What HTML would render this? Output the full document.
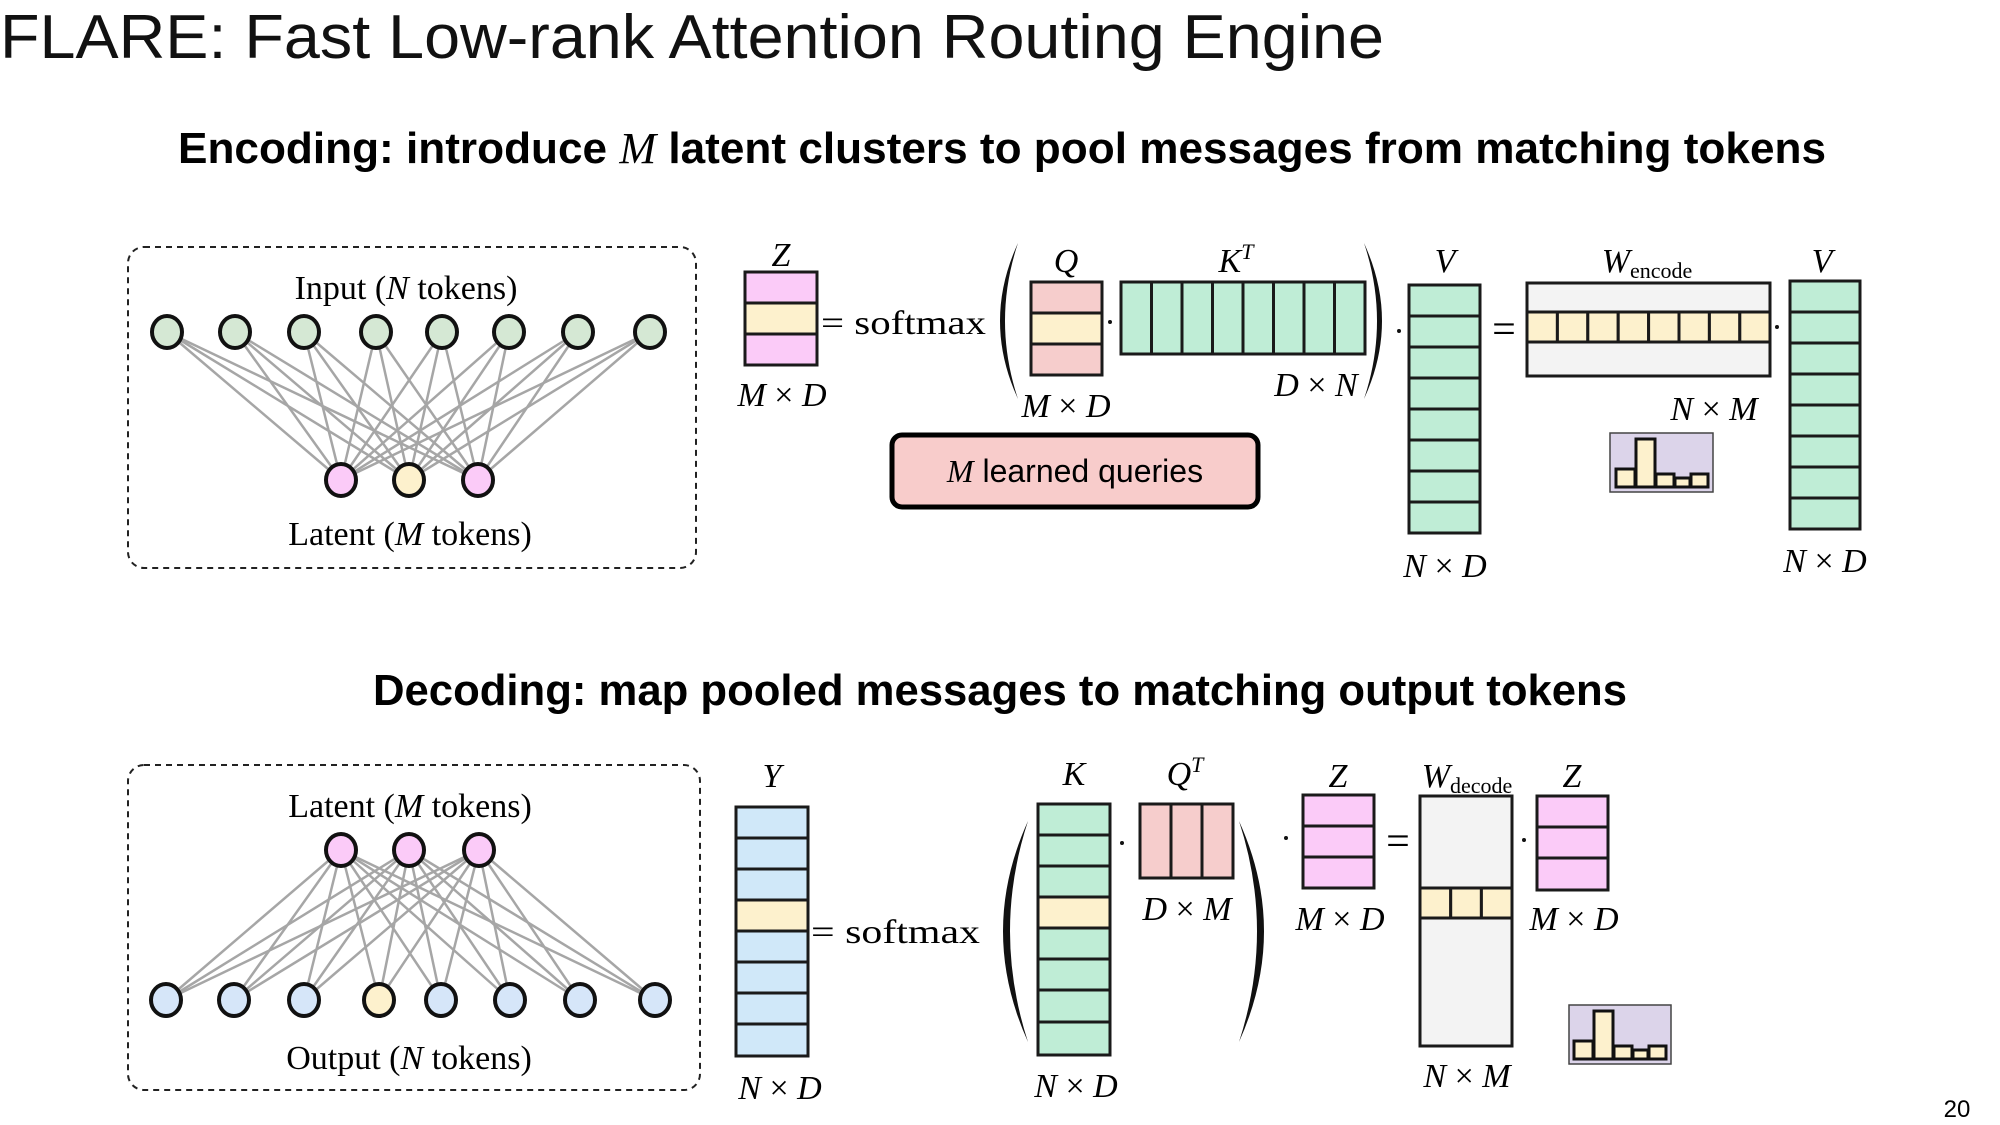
<!DOCTYPE html>
<html><head><meta charset="utf-8"><style>
html,body{margin:0;padding:0;background:#fff;}
svg{display:block;}
.t{font-family:"Liberation Sans",sans-serif;}
.m{font-family:"Liberation Serif",serif;font-size:34px;}
.i{font-style:italic;}
.eq{font-family:"Liberation Serif",serif;font-size:42px;}
.cell{stroke:#1a1a1a;stroke-width:3;}
.e{stroke:#a6a6a6;stroke-width:2.5;}
.n{stroke:#111;stroke-width:4;}
</style></head><body>
<svg width="2000" height="1125" viewBox="0 0 2000 1125" xmlns="http://www.w3.org/2000/svg">
<rect width="2000" height="1125" fill="#fff"/>
<text class="t" x="0" y="58" font-size="62" fill="#111" textLength="1384" lengthAdjust="spacingAndGlyphs">FLARE: Fast Low-rank Attention Routing Engine</text>
<text class="t" x="178" y="163" font-size="44" font-weight="bold" textLength="1648" lengthAdjust="spacingAndGlyphs">Encoding: introduce <tspan font-family="Liberation Serif" font-style="italic" font-weight="normal">M</tspan> latent clusters to pool messages from matching tokens</text>
<text class="t" x="373" y="705" font-size="44" font-weight="bold" textLength="1254" lengthAdjust="spacingAndGlyphs">Decoding: map pooled messages to matching output tokens</text>

<rect x="128" y="247" width="568" height="321" rx="16" fill="none" stroke="#222" stroke-width="2" stroke-dasharray="6,5"/>
<g class="e">
<line x1="167" y1="332" x2="341" y2="480"/><line x1="167" y1="332" x2="409" y2="480"/><line x1="167" y1="332" x2="478" y2="480"/>
<line x1="235" y1="332" x2="341" y2="480"/><line x1="235" y1="332" x2="409" y2="480"/><line x1="235" y1="332" x2="478" y2="480"/>
<line x1="304" y1="332" x2="341" y2="480"/><line x1="304" y1="332" x2="409" y2="480"/><line x1="304" y1="332" x2="478" y2="480"/>
<line x1="376" y1="332" x2="341" y2="480"/><line x1="376" y1="332" x2="409" y2="480"/><line x1="376" y1="332" x2="478" y2="480"/>
<line x1="442" y1="332" x2="341" y2="480"/><line x1="442" y1="332" x2="409" y2="480"/><line x1="442" y1="332" x2="478" y2="480"/>
<line x1="509" y1="332" x2="341" y2="480"/><line x1="509" y1="332" x2="409" y2="480"/><line x1="509" y1="332" x2="478" y2="480"/>
<line x1="578" y1="332" x2="341" y2="480"/><line x1="578" y1="332" x2="409" y2="480"/><line x1="578" y1="332" x2="478" y2="480"/>
<line x1="650" y1="332" x2="341" y2="480"/><line x1="650" y1="332" x2="409" y2="480"/><line x1="650" y1="332" x2="478" y2="480"/>
</g>
<g class="n" fill="#d5e8d4">
<ellipse cx="167" cy="332" rx="15" ry="16"/><ellipse cx="235" cy="332" rx="15" ry="16"/><ellipse cx="304" cy="332" rx="15" ry="16"/><ellipse cx="376" cy="332" rx="15" ry="16"/>
<ellipse cx="442" cy="332" rx="15" ry="16"/><ellipse cx="509" cy="332" rx="15" ry="16"/><ellipse cx="578" cy="332" rx="15" ry="16"/><ellipse cx="650" cy="332" rx="15" ry="16"/>
</g>
<ellipse class="n" cx="341" cy="480" rx="15" ry="16" fill="#fbcbf8"/>
<ellipse class="n" cx="409" cy="480" rx="15" ry="16" fill="#fdf1cd"/>
<ellipse class="n" cx="478" cy="480" rx="15" ry="16" fill="#fbcbf8"/>
<text class="m" x="406" y="299" text-anchor="middle">Input (<tspan class="i">N</tspan> tokens)</text>
<text class="m" x="410" y="545" text-anchor="middle">Latent (<tspan class="i">M</tspan> tokens)</text>

<text class="m i" x="781" y="266" text-anchor="middle">Z</text>
<rect class="cell" x="745" y="272" width="72" height="31" fill="#fbcbf8"/>
<rect class="cell" x="745" y="303" width="72" height="31" fill="#fdf1cd"/>
<rect class="cell" x="745" y="334" width="72" height="31" fill="#fbcbf8"/>
<text class="m" x="782" y="406" text-anchor="middle"><tspan class="i">M</tspan> × <tspan class="i">D</tspan></text>
<text class="m" x="821" y="334" textLength="165" lengthAdjust="spacingAndGlyphs">= softmax</text>
<path d="M1018,243 Q982,321 1018,399 Q992,321 1018,243 Z" fill="#111"/>
<text class="m i" x="1066" y="272" text-anchor="middle">Q</text>
<rect class="cell" x="1031" y="282" width="71" height="31" fill="#f6cdcc"/>
<rect class="cell" x="1031" y="313" width="71" height="31" fill="#fdf1cd"/>
<rect class="cell" x="1031" y="344" width="71" height="31" fill="#f6cdcc"/>
<text class="m" x="1066" y="417" text-anchor="middle"><tspan class="i">M</tspan> × <tspan class="i">D</tspan></text>
<circle cx="1110" cy="322" r="2" fill="#111"/>
<text class="m i" x="1236" y="272" text-anchor="middle">K<tspan font-size="22" dy="-13">T</tspan></text>
<g class="cell" fill="#bfedd6">
<rect x="1121" y="282" width="30.5" height="72"/><rect x="1151.5" y="282" width="30.5" height="72"/><rect x="1182" y="282" width="30.5" height="72"/><rect x="1212.5" y="282" width="30.5" height="72"/>
<rect x="1243" y="282" width="30.5" height="72"/><rect x="1273.5" y="282" width="30.5" height="72"/><rect x="1304" y="282" width="30.5" height="72"/><rect x="1334.5" y="282" width="30.5" height="72"/>
</g>
<text class="m" x="1316" y="396" text-anchor="middle"><tspan class="i">D</tspan> × <tspan class="i">N</tspan></text>
<path d="M1364,243 Q1400,321 1364,399 Q1390,321 1364,243 Z" fill="#111"/>
<circle cx="1399" cy="331" r="2" fill="#111"/>
<text class="m i" x="1445" y="272" text-anchor="middle">V</text>
<g class="cell" fill="#bfedd6">
<rect x="1409" y="285" width="71" height="31"/><rect x="1409" y="316" width="71" height="31"/><rect x="1409" y="347" width="71" height="31"/><rect x="1409" y="378" width="71" height="31"/>
<rect x="1409" y="409" width="71" height="31"/><rect x="1409" y="440" width="71" height="31"/><rect x="1409" y="471" width="71" height="31"/><rect x="1409" y="502" width="71" height="31"/>
</g>
<text class="m" x="1445" y="577" text-anchor="middle"><tspan class="i">N</tspan> × <tspan class="i">D</tspan></text>
<text class="eq" x="1504" y="343" text-anchor="middle">=</text>
<text class="m i" x="1647" y="272" text-anchor="middle">W<tspan font-style="normal" font-size="22" dy="6">encode</tspan></text>
<rect class="cell" x="1527" y="283" width="243" height="93" fill="#f3f3f3"/>
<g class="cell" fill="#fdf1cd">
<rect x="1527" y="312" width="30.4" height="30"/><rect x="1557.4" y="312" width="30.4" height="30"/><rect x="1587.8" y="312" width="30.4" height="30"/><rect x="1618.2" y="312" width="30.4" height="30"/>
<rect x="1648.6" y="312" width="30.4" height="30"/><rect x="1679" y="312" width="30.4" height="30"/><rect x="1709.4" y="312" width="30.4" height="30"/><rect x="1739.8" y="312" width="30.2" height="30"/>
</g>
<text class="m" x="1714" y="420" text-anchor="middle"><tspan class="i">N</tspan> × <tspan class="i">M</tspan></text>
<circle cx="1777" cy="327" r="2" fill="#111"/>
<text class="m i" x="1822" y="272" text-anchor="middle">V</text>
<g class="cell" fill="#bfedd6">
<rect x="1790" y="281" width="70" height="31"/><rect x="1790" y="312" width="70" height="31"/><rect x="1790" y="343" width="70" height="31"/><rect x="1790" y="374" width="70" height="31"/>
<rect x="1790" y="405" width="70" height="31"/><rect x="1790" y="436" width="70" height="31"/><rect x="1790" y="467" width="70" height="31"/><rect x="1790" y="498" width="70" height="31"/>
</g>
<text class="m" x="1825" y="572" text-anchor="middle"><tspan class="i">N</tspan> × <tspan class="i">D</tspan></text>
<rect x="1610" y="433" width="103" height="59" fill="#dcd4ea" stroke="#444" stroke-width="1.5"/>
<g fill="#fdf1cd" stroke="#111" stroke-width="3">
<rect x="1616" y="469" width="19" height="18"/><rect x="1636" y="439" width="19" height="48"/><rect x="1656" y="474" width="18" height="13"/><rect x="1675" y="478" width="15" height="9"/><rect x="1691" y="474" width="17" height="13"/>
</g>
<rect x="892" y="435" width="366" height="72" rx="10" fill="#f8cccb" stroke="#000" stroke-width="5"/>
<text class="t" x="1075" y="482" font-size="32" text-anchor="middle"><tspan font-family="Liberation Serif" font-style="italic">M</tspan> learned queries</text>

<rect x="128" y="765" width="572" height="325" rx="16" fill="none" stroke="#222" stroke-width="2" stroke-dasharray="6,5"/>
<g class="e">
<line x1="341" y1="850" x2="166" y2="1000"/><line x1="409" y1="850" x2="166" y2="1000"/><line x1="479" y1="850" x2="166" y2="1000"/>
<line x1="341" y1="850" x2="234" y2="1000"/><line x1="409" y1="850" x2="234" y2="1000"/><line x1="479" y1="850" x2="234" y2="1000"/>
<line x1="341" y1="850" x2="304" y2="1000"/><line x1="409" y1="850" x2="304" y2="1000"/><line x1="479" y1="850" x2="304" y2="1000"/>
<line x1="341" y1="850" x2="379" y2="1000"/><line x1="409" y1="850" x2="379" y2="1000"/><line x1="479" y1="850" x2="379" y2="1000"/>
<line x1="341" y1="850" x2="441" y2="1000"/><line x1="409" y1="850" x2="441" y2="1000"/><line x1="479" y1="850" x2="441" y2="1000"/>
<line x1="341" y1="850" x2="510" y2="1000"/><line x1="409" y1="850" x2="510" y2="1000"/><line x1="479" y1="850" x2="510" y2="1000"/>
<line x1="341" y1="850" x2="580" y2="1000"/><line x1="409" y1="850" x2="580" y2="1000"/><line x1="479" y1="850" x2="580" y2="1000"/>
<line x1="341" y1="850" x2="655" y2="1000"/><line x1="409" y1="850" x2="655" y2="1000"/><line x1="479" y1="850" x2="655" y2="1000"/>
</g>
<g class="n" fill="#fbcbf8">
<ellipse cx="341" cy="850" rx="15" ry="16"/><ellipse cx="409" cy="850" rx="15" ry="16"/><ellipse cx="479" cy="850" rx="15" ry="16"/>
</g>
<g class="n" fill="#d6e6f9">
<ellipse cx="166" cy="1000" rx="15" ry="16"/><ellipse cx="234" cy="1000" rx="15" ry="16"/><ellipse cx="304" cy="1000" rx="15" ry="16"/>
<ellipse cx="379" cy="1000" rx="15" ry="16" fill="#fdf1cd"/>
<ellipse cx="441" cy="1000" rx="15" ry="16"/><ellipse cx="510" cy="1000" rx="15" ry="16"/><ellipse cx="580" cy="1000" rx="15" ry="16"/><ellipse cx="655" cy="1000" rx="15" ry="16"/>
</g>
<text class="m" x="410" y="817" text-anchor="middle">Latent (<tspan class="i">M</tspan> tokens)</text>
<text class="m" x="409" y="1069" text-anchor="middle">Output (<tspan class="i">N</tspan> tokens)</text>

<text class="m i" x="772" y="787" text-anchor="middle">Y</text>
<g class="cell" fill="#d0e8f9">
<rect x="736" y="807" width="72" height="31"/><rect x="736" y="838" width="72" height="31"/><rect x="736" y="869" width="72" height="31"/>
<rect x="736" y="900" width="72" height="31" fill="#fdf1cd"/>
<rect x="736" y="931" width="72" height="31"/><rect x="736" y="962" width="72" height="31"/><rect x="736" y="993" width="72" height="31"/><rect x="736" y="1024" width="72" height="32"/>
</g>
<text class="m" x="780" y="1099" text-anchor="middle"><tspan class="i">N</tspan> × <tspan class="i">D</tspan></text>
<text class="m" x="811" y="943" textLength="169" lengthAdjust="spacingAndGlyphs">= softmax</text>
<path d="M1028,821 Q978,931 1028,1042 Q992,931 1028,821 Z" fill="#111"/>
<text class="m i" x="1074" y="785" text-anchor="middle">K</text>
<g class="cell" fill="#bfedd6">
<rect x="1038" y="804" width="72" height="31"/><rect x="1038" y="835" width="72" height="31"/><rect x="1038" y="866" width="72" height="31"/>
<rect x="1038" y="897" width="72" height="31" fill="#fdf1cd"/>
<rect x="1038" y="928" width="72" height="31"/><rect x="1038" y="959" width="72" height="31"/><rect x="1038" y="990" width="72" height="32"/><rect x="1038" y="1022" width="72" height="33"/>
</g>
<text class="m" x="1076" y="1097" text-anchor="middle"><tspan class="i">N</tspan> × <tspan class="i">D</tspan></text>
<circle cx="1122" cy="843" r="2" fill="#111"/>
<text class="m i" x="1185" y="785" text-anchor="middle">Q<tspan font-size="22" dy="-13">T</tspan></text>
<g class="cell" fill="#f6cdcc">
<rect x="1140" y="804" width="31" height="74"/><rect x="1171" y="804" width="31" height="74"/><rect x="1202" y="804" width="31" height="74"/>
</g>
<text class="m" x="1187" y="920" text-anchor="middle"><tspan class="i">D</tspan> × <tspan class="i">M</tspan></text>
<path d="M1239,821 Q1289,931 1239,1042 Q1275,931 1239,821 Z" fill="#111"/>
<circle cx="1286" cy="838" r="2" fill="#111"/>
<text class="m i" x="1338" y="787" text-anchor="middle">Z</text>
<g class="cell" fill="#fbcbf8">
<rect x="1303" y="795" width="71" height="31"/><rect x="1303" y="826" width="71" height="31"/><rect x="1303" y="857" width="71" height="31"/>
</g>
<text class="m" x="1340" y="930" text-anchor="middle"><tspan class="i">M</tspan> × <tspan class="i">D</tspan></text>
<text class="eq" x="1398" y="855" text-anchor="middle">=</text>
<text class="m i" x="1467" y="787" text-anchor="middle">W<tspan font-style="normal" font-size="22" dy="6">decode</tspan></text>
<rect class="cell" x="1420" y="796" width="92" height="250" fill="#f3f3f3"/>
<g class="cell" fill="#fdf1cd">
<rect x="1420" y="888" width="30.7" height="30"/><rect x="1450.7" y="888" width="30.7" height="30"/><rect x="1481.4" y="888" width="30.6" height="30"/>
</g>
<text class="m" x="1467" y="1087" text-anchor="middle"><tspan class="i">N</tspan> × <tspan class="i">M</tspan></text>
<circle cx="1524" cy="840" r="2" fill="#111"/>
<text class="m i" x="1572" y="787" text-anchor="middle">Z</text>
<g class="cell" fill="#fbcbf8">
<rect x="1537" y="796" width="71" height="31"/><rect x="1537" y="827" width="71" height="31"/><rect x="1537" y="858" width="71" height="32"/>
</g>
<text class="m" x="1574" y="930" text-anchor="middle"><tspan class="i">M</tspan> × <tspan class="i">D</tspan></text>
<rect x="1569" y="1005" width="102" height="59" fill="#dcd4ea" stroke="#444" stroke-width="1.5"/>
<g fill="#fdf1cd" stroke="#111" stroke-width="3">
<rect x="1574" y="1041" width="19" height="18"/><rect x="1594" y="1011" width="19" height="48"/><rect x="1614" y="1046" width="18" height="13"/><rect x="1633" y="1050" width="15" height="9"/><rect x="1649" y="1046" width="17" height="13"/>
</g>
<text class="t" x="1957" y="1117" font-size="24" text-anchor="middle">20</text>
</svg>
</body></html>
